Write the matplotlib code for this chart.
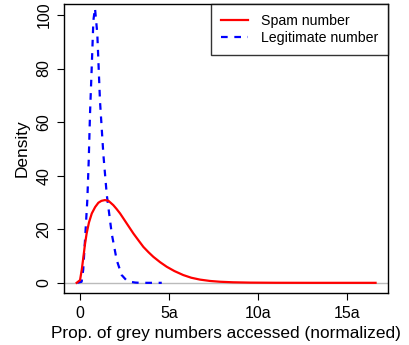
import matplotlib
matplotlib.use("Agg")
import matplotlib.pyplot as plt
from matplotlib.lines import Line2D

plt.rcParams['font.family'] = ['Liberation Sans', 'DejaVu Sans']

# density estimates
spam_x = [-0.19, 0.0, 0.1, 0.19, 0.28, 0.37, 0.5, 0.66, 0.85, 1.03, 1.2, 1.4,
          1.6, 1.87, 2.05, 2.25, 2.62, 3.0, 3.3, 3.56, 3.85, 4.12, 4.5, 4.87,
          5.3, 5.8, 6.25, 6.74, 7.3, 7.87, 8.6, 9.55, 11.0, 13.0, 16.6]
spam_y = [0.0, 1.0, 5.0, 9.7, 14.5, 18.4, 22.5, 25.9, 28.3, 29.9, 30.6, 30.9,
          30.6, 29.0, 27.6, 25.9, 22.2, 18.4, 15.7, 13.4, 11.4, 9.7, 7.7, 6.0,
          4.4, 2.9, 1.9, 1.2, 0.7, 0.4, 0.2, 0.08, 0.02, 0.0, 0.0]

legit_x = [-0.15, 0.09, 0.18, 0.28, 0.41, 0.49, 0.56, 0.66, 0.75, 0.84, 0.97,
           1.12, 1.31, 1.5, 1.78, 2.06, 2.34, 2.6, 2.81, 3.1, 3.37, 4.59]
legit_y = [0.0, 0.4, 5.0, 16.0, 31.0, 46.0, 63.0, 81.0, 98.0, 102.5, 93.0,
           68.0, 48.0, 33.0, 18.4, 8.5, 2.9, 1.0, 0.4, 0.1, 0.0, 0.0]

xticks = [0, 5, 10, 15]
xticklabels = ['0', '5a', '10a', '15a']
yticks = [0, 20, 40, 60, 80, 100]

fig = plt.figure(figsize=(4.09, 3.45), dpi=100)
ax = fig.add_axes([0.1565, 0.1507, 0.9487 - 0.1565, 0.9884 - 0.1507])

ax.axhline(0, color='#bbbbbb', lw=1, zorder=1)
ax.plot(spam_x, spam_y, color='red', lw=1.6, zorder=3)
ax.plot(legit_x, legit_y, color='blue', lw=1.6, ls=(0, (3, 3)), zorder=2)

ax.set_xlim(-0.9, 17.3)
ax.set_ylim(-3.8, 104.1)
ax.set_xticks(xticks)
ax.set_xticklabels(xticklabels)
ax.set_yticks(yticks)
ax.set_yticklabels([str(t) for t in yticks], rotation=90, va='center')
ax.tick_params(labelsize=11.5, length=5, width=0.8, pad=4)
for s in ax.spines.values():
    s.set_linewidth(1.0)

ax.set_xlabel('Prop. of grey numbers accessed (normalized)', fontsize=12.4, labelpad=4)
ax.set_ylabel('Density', fontsize=12.4, labelpad=5)

handles = [Line2D([], [], color='red', lw=1.6),
           Line2D([], [], color='blue', lw=1.6, ls=(0, (3, 3)))]
leg = ax.legend(handles, ['Spam number', 'Legitimate number'], loc='upper right',
                fontsize=10.2, frameon=True, fancybox=False, borderaxespad=0,
                handlelength=1.9, handletextpad=0.9, borderpad=0.7,
                labelspacing=0.2)
leg.get_frame().set_edgecolor('black')
leg.get_frame().set_linewidth(1.0)

fig.savefig('out.png', dpi=100)
